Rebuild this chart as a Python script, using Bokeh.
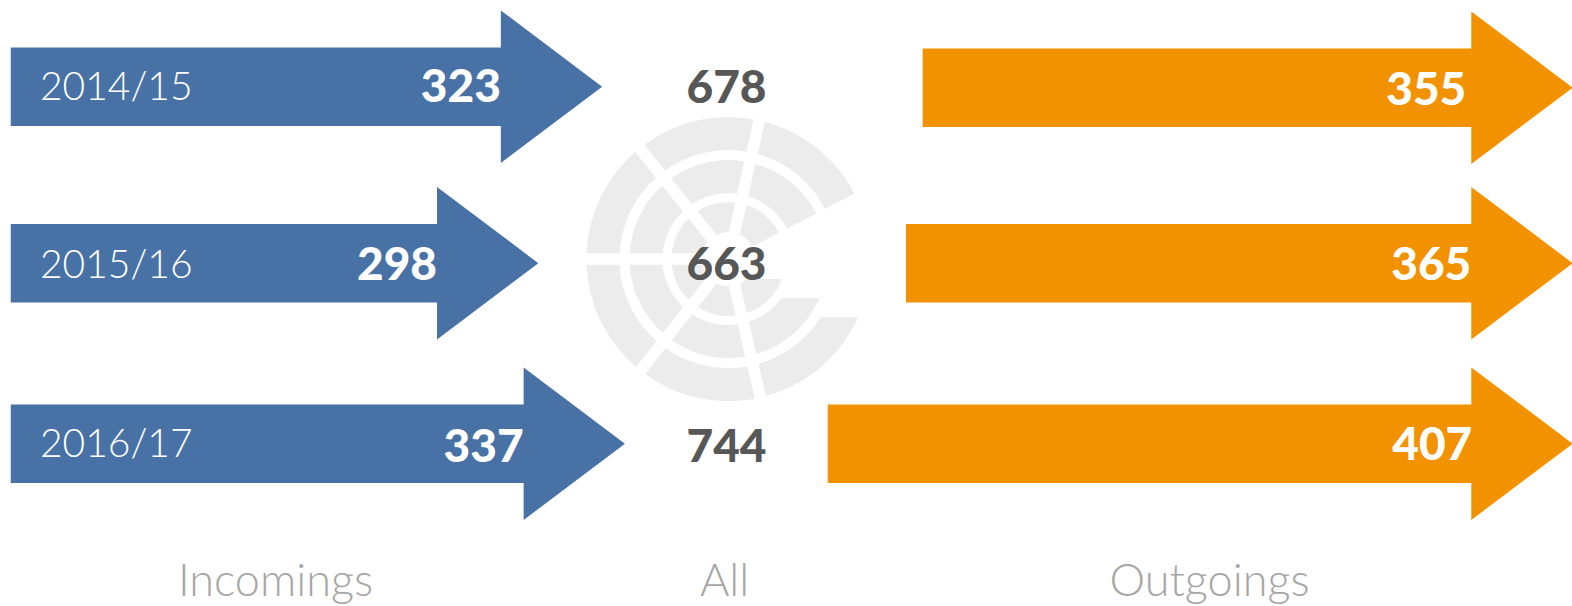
from math import cos, sin, radians
from bokeh.plotting import figure
from bokeh.models import Range1d
from bokeh.core.properties import value
from bokeh.embed import file_html
from bokeh.resources import INLINE

years = ["2014/15", "2015/16", "2016/17"]
incomings = [323, 298, 337]
outgoings = [355, 365, 407]
totals = [678, 663, 744]
# arrow shaft lengths (in the labels' units)
incoming_drawn = [322, 280, 337]
outgoing_drawn = [361, 372, 423.5]
column_titles = ["Incomings", "All", "Outgoings"]

BLUE = "#4872a6"
ORANGE = "#f39200"
LOGO = "#ececec"
W, H = 1572, 606
K = 1.5197            # px per unit
X0 = 11               # page x of the incoming arrows' tail
HEAD = 101.3 / K
OUT_BASE = (1470.8 - X0) / K
ROW_IN = [86.2, 262.7, 443.2]
ROW_OUT = [87.2, 262.7, 443.2]
SHAFT, FLARE = 39.2, 76.3

p = figure(width=W, height=H, output_backend="svg", toolbar_location=None,
           x_range=Range1d(-X0 / K, (W - X0) / K),
           y_range=Range1d(H, 0),
           x_axis_location=None, y_axis_location=None,
           min_border=0, outline_line_color=None, background_fill_color="white")
p.grid.visible = False


def arrow(x0, base, y):
    return ([x0, base, base, base + HEAD, base, base, x0],
            [y - SHAFT, y - SHAFT, y - FLARE, y, y + FLARE, y + SHAFT, y + SHAFT])


for ln, y in zip(incoming_drawn, ROW_IN):
    xs, ys = arrow(-0.5, ln, y)
    p.patch(xs, ys, fill_color=BLUE, line_color=None)
for ln, y in zip(outgoing_drawn, ROW_OUT):
    xs, ys = arrow(OUT_BASE - ln, OUT_BASE, y)
    p.patch(xs, ys, fill_color=ORANGE, line_color=None)

# logo behind the centre column
CX, CY = (728 - X0) / K, 258.6
rings = [(109, 142, 58), (66, 99, 39), (27, 57, 20)]
for r0, r1, cut in rings:
    # ring radii are screen pixels
    p.annular_wedge([CX], [CY], inner_radius=r0, outer_radius=r1,
                    inner_radius_units="screen", outer_radius_units="screen",
                    start_angle=radians(27.5), end_angle=radians(355),
                    fill_color=LOGO, line_color=None)
    p.quad(left=[CX], right=[CX + 150 / K], top=[CY - 1], bottom=[CY + cut],
           fill_color="white", line_color=None)
for deg in [77.5, 128.7, 180, 231.7, 283]:
    p.segment([CX], [CY], [CX + 150 / K * cos(radians(deg))], [CY - 150 * sin(radians(deg))],
              line_color="white", line_width=11.5)

num_y_in = [85, 263, 445]
num_y_out = [87.5, 263, 443]
num_dx_out = [-5, 0, 1]
FONT = value("Lato Black")
LIGHT = value("Lato Light")

p.text([18.7] * 3, [84, 262, 441], text=years, text_font=LIGHT, text_font_size="39px",
       text_color="white", text_align="left", text_baseline="middle")
p.text(incoming_drawn, num_y_in, text=[str(v) for v in incomings], text_font=FONT,
       text_font_size="46px", text_color="white",
       text_align="right", text_baseline="middle")
p.text([OUT_BASE + d / K for d in num_dx_out], num_y_out, text=[str(v) for v in outgoings],
       text_font=FONT, text_font_size="46px", text_color="white",
       text_align="right", text_baseline="middle")
p.text([(726 - X0) / K] * 3, [85.5, 263, 445], text=[str(v) for v in totals], text_font=FONT,
       text_font_size="46px", text_color="#575757",
       text_align="center", text_baseline="middle")
p.text([(275 - X0) / K, (724 - X0) / K, (1209 - X0) / K], [578.5, 578.5, 578.5], text=column_titles,
       text_font=LIGHT, text_font_size="45px", text_color="#a6a6a6",
       text_align="center", text_baseline="middle")

open("out.html", "w").write(file_html(p, INLINE))
